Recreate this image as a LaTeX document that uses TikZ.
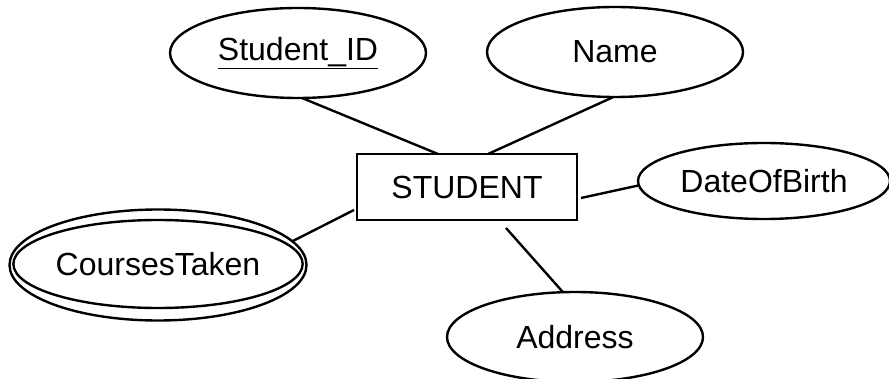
\documentclass[tikz,border=0pt]{standalone}
\usepackage{fontspec}
\setmainfont{Liberation Sans}
\usetikzlibrary{shapes.geometric,calc}
\begin{document}
\begin{tikzpicture}[x=1pt,y=-1pt,
  every node/.style={font=\fontsize{32}{38}\selectfont, inner sep=0pt, outer sep=0pt, line width=2.4pt},
  attr/.style={draw, ellipse, minimum width=256pt, minimum height=90pt},
  entity/.style={draw, rectangle, minimum width=220pt, minimum height=66pt},
  conn/.style={line width=2.4pt}]
\useasboundingbox (0,0) rectangle (889,379);
\fill[white] (0,0) rectangle (889,379);
\node[entity] (stu) at (467,187) {STUDENT};
\node[attr] (sid) at (298,53) {\underline{Student\_ID}};
\node[attr] (name) at (615,52) {Name};
\node[attr, minimum width=252pt, minimum height=76pt] (dob) at (764,181) {DateOfBirth};
\node[attr] (addr) at (575,337) {Address};
\node[draw, ellipse, minimum width=297pt, minimum height=111pt] (ct) at (158,265) {};
\node[draw, ellipse, minimum width=282pt, minimum height=88pt] (cti) at (158,264) {CoursesTaken};
\draw[conn] (sid.-85) -- ($(stu.north west)+(81,0)$);
\draw[conn] (name.-92) -- ($(stu.north west)+(131,0)$);
\draw[conn] (dob.182) -- ($(stu.north east)+(4,44)$);
\draw[conn] (ct.10) -- ($(stu.north west)+(-3,56)$);
\draw[conn] (addr.105) -- ($(stu.south west)+(149,8)$);
\end{tikzpicture}
\end{document}
